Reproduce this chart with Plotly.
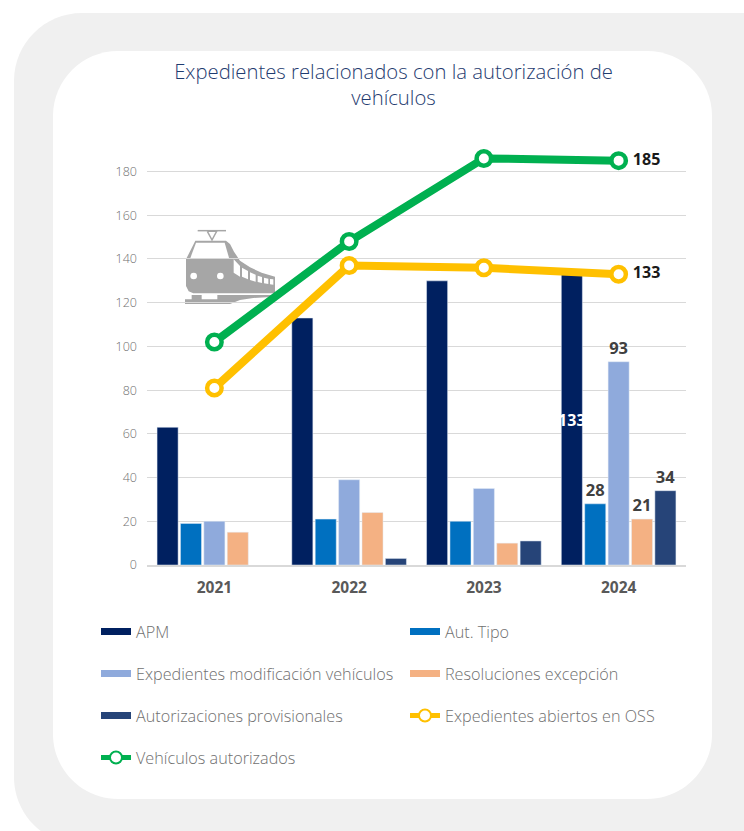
import plotly.graph_objects as go

# ---------- data ----------
years = ["2021", "2022", "2023", "2024"]
apm = [63, 113, 130, 133]
aut_tipo = [19, 21, 20, 28]
modificacion = [20, 39, 35, 93]
excepcion = [15, 24, 10, 21]
provisionales = [None, 3, 11, 34]
oss = [81, 137, 136, 133]
autorizados = [102, 148, 186, 185]
y_ticks = [0, 20, 40, 60, 80, 100, 120, 140, 160, 180]

FONT = "Open Sans"
GREY = "#6f6f6f"
DARK = "#404040"

W, H = 744, 831


def X(px):
    return px / W


def Y(px):
    return 1 - px / H


def rounded(x0, y0, x1, y1, r):
    c = r * 0.4477
    return (
        f"M{X(x0 + r)},{Y(y0)} L{X(x1 - r)},{Y(y0)} "
        f"C{X(x1 - c)},{Y(y0)} {X(x1)},{Y(y0 + c)} {X(x1)},{Y(y0 + r)} "
        f"L{X(x1)},{Y(y1 - r)} "
        f"C{X(x1)},{Y(y1 - c)} {X(x1 - c)},{Y(y1)} {X(x1 - r)},{Y(y1)} "
        f"L{X(x0 + r)},{Y(y1)} "
        f"C{X(x0 + c)},{Y(y1)} {X(x0)},{Y(y1 - c)} {X(x0)},{Y(y1 - r)} "
        f"L{X(x0)},{Y(y0 + r)} "
        f"C{X(x0)},{Y(y0 + c)} {X(x0 + c)},{Y(y0)} {X(x0 + r)},{Y(y0)} Z"
    )


fig = go.Figure()

bars = [
    ("APM", apm, "#002060"),
    ("Aut. Tipo", aut_tipo, "#0070c0"),
    ("Expedientes modificación vehículos", modificacion, "#8faadc"),
    ("Resoluciones excepción", excepcion, "#f4b183"),
    ("Autorizaciones provisionales", provisionales, "#264478"),
]
legend_pos = {
    "APM": ("legend", 96, 632),
    "Aut. Tipo": ("legend2", 405, 632),
    "Expedientes modificación vehículos": ("legend3", 96, 674),
    "Resoluciones excepción": ("legend4", 405, 674),
    "Autorizaciones provisionales": ("legend5", 96, 716),
    "Expedientes abiertos en OSS": ("legend6", 405, 716),
    "Vehículos autorizados": ("legend7", 96, 758),
}

for i, (name, vals, col) in enumerate(bars):
    labels = [""] * 3 + [str(vals[-1])]
    fig.add_trace(go.Bar(
        x=years, y=vals, name=name, legendgroup=name, showlegend=False,
        marker=dict(color=col),
        text=labels, textposition="inside" if i == 0 else "outside",
        textangle=0, insidetextanchor="middle", constraintext="none", cliponaxis=False,
        insidetextfont=dict(family=FONT, size=16, color="white", weight="bold"),
        outsidetextfont=dict(family=FONT, size=16.5, color=DARK, weight="bold"),
        hoverinfo="x+y+name",
    ))
    # wide swatch for the legend entry
    fig.add_trace(go.Scatter(
        x=[None], y=[None], mode="lines", name=name, legendgroup=name,
        line=dict(color=col, width=7), legend=legend_pos[name][0],
    ))

for name, vals, col in [
    ("Expedientes abiertos en OSS", oss, "#ffc000"),
    ("Vehículos autorizados", autorizados, "#00b050"),
]:
    fig.add_trace(go.Scatter(
        x=years, y=vals, name=name, mode="lines+markers+text",
        line=dict(color=col, width=8),
        marker=dict(size=14.5, color="white", line=dict(color=col, width=4.5)),
        text=[""] * 3 + ["\u00a0" + str(vals[-1])], textposition="middle right",
        textfont=dict(family=FONT, size=16, color="#1a1a1a", weight="bold"),
        cliponaxis=False, legend=legend_pos[name][0],
    ))

legends = {}
for name, (key, lx, ly) in legend_pos.items():
    legends[key] = dict(
        x=X(lx), y=Y(ly), xanchor="left", yanchor="middle",
        bgcolor="rgba(0,0,0,0)", borderwidth=0,
        font=dict(family=FONT, size=16.2, color=GREY, weight=300),
        itemsizing="constant" if key in ("legend6", "legend7") else "trace",
    )

# ---------- decoration: background panels and train icon ----------


def Zx(v):
    return X(90 + v / 3)


def Zy(v):
    return Y(140 + v / 3)


def poly(points):
    return "M" + " L".join(f"{Zx(a)},{Zy(b)}" for a, b in points) + " Z"


TRAIN = "#a6a6a6"
body = [(316, 302), (408, 302), (420, 312), (432, 335), (450, 362), (480, 382), (515, 398), (555, 410),
        (555, 460), (310, 460), (296, 454), (288, 438), (288, 358)]
under = [(285, 478), (305, 478), (305, 465), (335, 465), (335, 478), (382, 478), (382, 465), (555, 465),
         (555, 470), (490, 474), (450, 480), (420, 492), (285, 492)]
front_win = [(300, 357), (318, 308), (404, 308), (418, 357)]
side_wins = [
    [(431, 358), (450, 378), (450, 410), (431, 398)],
    [(456, 383), (474, 393), (474, 418), (456, 410)],
    [(480, 397), (497, 404), (497, 425), (480, 420)],
    [(503, 407), (516, 411), (516, 429), (503, 426)],
    [(522, 413), (535, 416), (535, 432), (522, 430)],
    [(540, 417), (550, 418), (550, 434), (540, 433)],
]


def dot(cx, cy, r=10):
    return dict(type="circle", xref="paper", yref="paper",
                x0=Zx(cx - r), x1=Zx(cx + r), y0=Zy(cy + r), y1=Zy(cy - r),
                fillcolor="white", line_width=0, layer="between")


def fill(path, color):
    return dict(type="path", xref="paper", yref="paper", path=path,
                fillcolor=color, line_width=0, layer="between")


def stroke(pts):
    return dict(type="path", xref="paper", yref="paper",
                path="M" + " L".join(f"{Zx(a)},{Zy(b)}" for a, b in pts),
                line=dict(color=TRAIN, width=1.5), layer="between")


shapes = [
    dict(type="path", xref="paper", yref="paper", path=rounded(14, 13, 860, 845, 68),
         fillcolor="#f0f0f0", line_width=0, layer="below"),
    dict(type="path", xref="paper", yref="paper", path=rounded(53, 51, 712, 799, 65),
         fillcolor="white", line_width=0, layer="below"),
    fill(poly(body), TRAIN), fill(poly(under), TRAIN),
    fill(poly(front_win), "white"),
    *[fill(poly(w), "white") for w in side_wins],
    dot(311, 408), dot(391, 408),
    stroke([(323, 272), (408, 272)]),
    stroke([(352, 274), (366, 300), (380, 274), (352, 274)]),
]

fig.update_layout(
    width=W, height=H, autosize=False,
    margin=dict(l=0, r=0, t=0, b=0, autoexpand=False),
    paper_bgcolor="white", plot_bgcolor="rgba(0,0,0,0)",
    barmode="group", bargap=0.132, bargroupgap=0.1,
    font=dict(family=FONT, color=GREY),
    title=dict(
        text="Expedientes relacionados con la autorización de<br>vehículos",
        x=X(393.5), xanchor="center", xref="paper",
        y=Y(79), yanchor="top", yref="paper",
        font=dict(family=FONT, size=20.3, color="#1f3c70", weight=300),
    ),
    xaxis=dict(
        domain=[X(147), X(686)], type="category", showgrid=False,
        linecolor="#d9d9d9", linewidth=1.5, ticks="", ticklabelstandoff=8,
        tickfont=dict(family=FONT, size=15.5, color="#595959", weight="bold"),
    ),
    yaxis=dict(
        domain=[Y(565), Y(149.7)], range=[0, 190], tickvals=y_ticks,
        gridcolor="#d9d9d9", gridwidth=1, zeroline=False, ticks="", ticklabelstandoff=9,
        tickfont=dict(family=FONT, size=12.5, color=GREY, weight=300),
    ),
    shapes=shapes,
    **legends,
)

fig.write_html("out.html", config={"displayModeBar": False},
               post_script="document.body.style.margin='0';document.body.style.overflow='hidden';")
